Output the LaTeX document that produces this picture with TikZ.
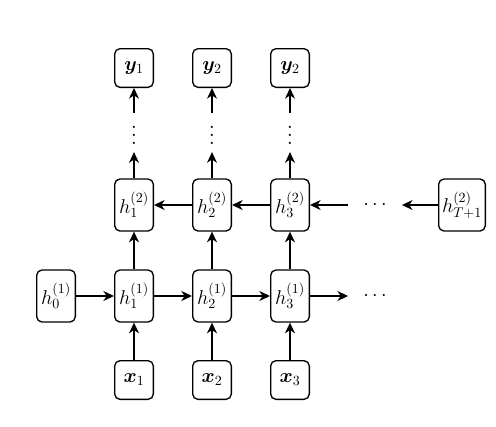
\documentclass[tikz,border=0pt]{standalone}
\usepackage{fix-cm}
\usepackage{bm}
\usetikzlibrary{arrows.meta}

% taller vertical dots, with a little room on top
\newcommand{\tallvdots}{\vbox{\kern5pt\baselineskip6pt\lineskiplimit0pt\hbox{.}\hbox{.}\hbox{.}}}

\tikzset{
    cell/.style={draw, rounded corners=4pt, line width=1pt, minimum width=29pt,
        minimum height=39pt, inner sep=0pt, font=\fontsize{15}{18}\selectfont},
    io/.style={cell, minimum height=29pt},
    gap/.style={inner sep=0pt, font=\fontsize{15}{18}\selectfont},
    link/.style={-{Stealth[length=8pt,width=7.5pt,inset=2.5pt]}, line width=1pt},
}

\begin{document}
\begin{tikzpicture}[x=0.75pt, y=-0.75pt]
        \useasboundingbox (0,0) rectangle (496,426);

        \node[io] (y1) at (134, 68) {$\bm{y}_1$};
        \node[io] (y2) at (212, 68) {$\bm{y}_2$};
        \node[io] (y3) at (290, 68) {$\bm{y}_2$};

        \node[gap, minimum height=29pt, font=\fontsize{20}{24}\selectfont] (v1) at (134, 132.5) {\tallvdots};
        \node[gap, minimum height=29pt, font=\fontsize{20}{24}\selectfont] (v2) at (212, 132.5) {\tallvdots};
        \node[gap, minimum height=29pt, font=\fontsize{20}{24}\selectfont] (v3) at (290, 132.5) {\tallvdots};

        \node[cell] (b1) at (134, 205) {$h_1^{(2)}$};
        \node[cell] (b2) at (212, 205) {$h_2^{(2)}$};
        \node[cell] (b3) at (290, 205) {$h_3^{(2)}$};
        \node[gap, minimum width=40pt] (bd) at (375, 205) {$\cdots$};
        \node[cell, minimum width=35pt] (bT) at (462, 205) {$h_{T+1}^{(2)}$};

        \node[cell] (f0) at (56, 296) {$h_0^{(1)}$};
        \node[cell] (f1) at (134, 296) {$h_1^{(1)}$};
        \node[cell] (f2) at (212, 296) {$h_2^{(1)}$};
        \node[cell] (f3) at (290, 296) {$h_3^{(1)}$};
        \node[gap, minimum width=40pt] (fd) at (375, 296) {$\cdots$};

        \node[io] (x1) at (134, 380) {$\bm{x}_1$};
        \node[io] (x2) at (212, 380) {$\bm{x}_2$};
        \node[io] (x3) at (290, 380) {$\bm{x}_3$};

        % inputs and the two layers
        \draw[link] (x1) -- (f1);
        \draw[link] (x2) -- (f2);
        \draw[link] (x3) -- (f3);

        \draw[link] (f1) -- (b1);
        \draw[link] (f2) -- (b2);
        \draw[link] (f3) -- (b3);

        \draw[link] (b1) -- (v1);
        \draw[link] (b2) -- (v2);
        \draw[link] (b3) -- (v3);

        \draw[link] (v1) -- (y1);
        \draw[link] (v2) -- (y2);
        \draw[link] (v3) -- (y3);

        % forward chain
        \draw[link] (f0) -- (f1);
        \draw[link] (f1) -- (f2);
        \draw[link] (f2) -- (f3);
        \draw[link] (f3) -- (fd);

        % backward chain
        \draw[link] (bT) -- (bd);
        \draw[link] (bd) -- (b3);
        \draw[link] (b3) -- (b2);
        \draw[link] (b2) -- (b1);
    \end{tikzpicture}
\end{document}
